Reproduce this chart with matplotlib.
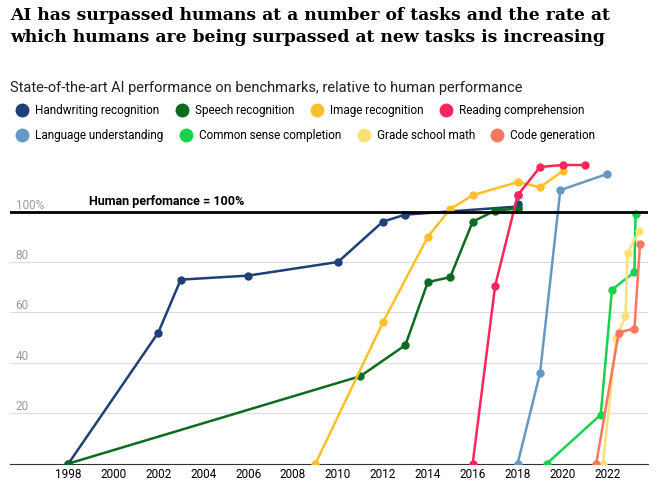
import matplotlib.pyplot as plt
from matplotlib.lines import Line2D

hw_x = [1998, 2002, 2003, 2006, 2010, 2012, 2013, 2018, 2018]
hw_y = [0, 52, 73, 74.6, 80, 96, 98.8, 102, 103]
sp_x = [1998, 2011, 2013, 2014, 2015, 2016, 2017, 2018]
sp_y = [0, 34.7, 47, 72, 74, 96, 100.4, 101.2]
im_x = [2009, 2012, 2014, 2015, 2016, 2018, 2019, 2020]
im_y = [0, 56, 90, 101, 106.5, 111.7, 109.7, 116]
rd_x = [2016, 2017, 2018, 2018, 2019, 2020, 2021]
rd_y = [0, 70.6, 106.5, 106.5, 117.7, 118.5, 118.5]
lu_x = [2018, 2019, 2019.9, 2022]
lu_y = [0, 36, 108.5, 115]
cs_x = [2019.3, 2021.7, 2022.2, 2023.2, 2023.25]
cs_y = [0, 19.4, 69, 76, 99]
gm_x = [2021.8, 2022.4, 2022.8, 2022.9, 2023.4]
gm_y = [0, 50, 58.5, 83.5, 92.3]
cg_x = [2021.5, 2022.5, 2023.2, 2023.45]
cg_y = [0, 52, 53.6, 87]

series = [
    ("Handwriting recognition", hw_x, hw_y, "#1f3f77"),
    ("Speech recognition", sp_x, sp_y, "#0b6b1e"),
    ("Image recognition", im_x, im_y, "#fcc02d"),
    ("Reading comprehension", rd_x, rd_y, "#f7265c"),
    ("Language understanding", lu_x, lu_y, "#6699c2"),
    ("Common sense completion", cs_x, cs_y, "#18d14c"),
    ("Grade school math", gm_x, gm_y, "#fbe07a"),
    ("Code generation", cg_x, cg_y, "#fc7660"),
]

plt.rcParams['font.family'] = ['Roboto', 'DejaVu Sans']
fig = plt.figure(figsize=(6.7, 4.88), dpi=100)
ax = fig.add_axes([0.015, 0.05, 0.952, 0.63])

for name, x, y, c in series:
    ax.plot(x, y, color=c, lw=1.8, marker='o', ms=5, zorder=3)

ax.axhline(100, color='black', lw=2, zorder=4)
ax.text(1998.9, 101.5, "Human perfomance = 100%", fontsize=9, fontweight='bold', va='bottom')
ax.set_xlim(1995.4, 2023.8)
ax.set_ylim(0, 122)
ax.set_xticks(range(1998, 2023, 2))
ax.set_yticks([20, 40, 60, 80, 100])
ax.set_yticklabels(['20', '40', '60', '80', '100%'])
ax.tick_params(axis='y', direction='in', pad=-4, length=0, labelcolor='#999999', labelsize=8.5)
for t in ax.get_yticklabels():
    t.set_horizontalalignment('left')
    t.set_verticalalignment('bottom')
ax.tick_params(axis='x', length=0, labelsize=8.5)
ax.grid(axis='y', color='#dddddd', lw=0.8)
for s in ['top', 'right', 'left']:
    ax.spines[s].set_visible(False)
ax.spines['bottom'].set_color('#333333')

fig.text(0.015, 0.985, "AI has surpassed humans at a number of tasks and the rate at\nwhich humans are being surpassed at new tasks is increasing",
         fontsize=12.3, fontweight='bold', family='DejaVu Serif', va='top', linespacing=1.35)
fig.text(0.015, 0.82, "State-of-the-art AI performance on benchmarks, relative to human performance",
         fontsize=10.5, va='center', color='#222222')

handles = [Line2D([], [], marker='o', ls='', color=c, ms=9) for _, _, _, c in series]
labels = [s[0] for s in series]
fig.legend(handles[:4], labels[:4], loc='center left', bbox_to_anchor=(0.0, 0.773), ncol=4,
           frameon=False, fontsize=8.5, handletextpad=0.1, columnspacing=0.9)
fig.legend(handles[4:], labels[4:], loc='center left', bbox_to_anchor=(0.0, 0.723), ncol=4,
           frameon=False, fontsize=8.5, handletextpad=0.1, columnspacing=0.9)

fig.savefig('out.png')
